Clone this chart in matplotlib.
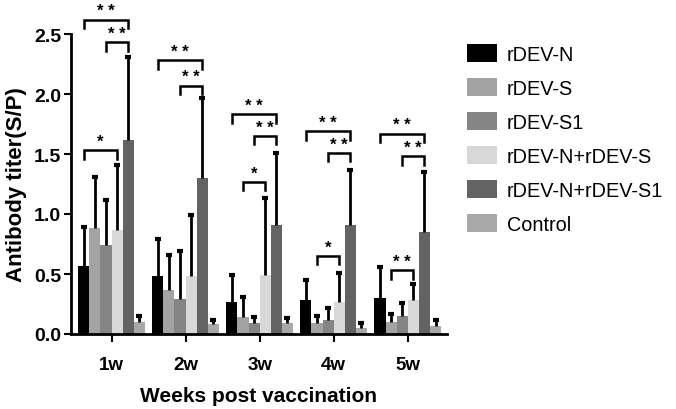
import matplotlib
matplotlib.use("Agg")
import matplotlib.pyplot as plt
import numpy as np
from matplotlib.patches import Patch

plt.rcParams['font.family'] = ['Liberation Sans', 'DejaVu Sans']

weeks = ["1w", "2w", "3w", "4w", "5w"]
groups = ["rDEV-N", "rDEV-S", "rDEV-S1", "rDEV-N+rDEV-S", "rDEV-N+rDEV-S1", "Control"]
colors = ["#000000", "#a3a3a3", "#858585", "#d8d8d8", "#636363", "#a8a8a8"]

# means per group (one value per week)
n_mean = [0.57, 0.48, 0.27, 0.28, 0.30]
s_mean = [0.88, 0.37, 0.14, 0.09, 0.10]
s1_mean = [0.74, 0.29, 0.09, 0.12, 0.15]
ns_mean = [0.87, 0.48, 0.49, 0.27, 0.28]
ns1_mean = [1.62, 1.30, 0.91, 0.91, 0.85]
ctrl_mean = [0.10, 0.08, 0.09, 0.05, 0.07]

# top of error bar
n_top = [0.89, 0.79, 0.49, 0.45, 0.56]
s_top = [1.31, 0.66, 0.31, 0.15, 0.17]
s1_top = [1.12, 0.69, 0.14, 0.22, 0.26]
ns_top = [1.41, 0.99, 1.13, 0.51, 0.42]
ns1_top = [2.31, 1.97, 1.51, 1.37, 1.35]
ctrl_top = [0.15, 0.12, 0.13, 0.09, 0.12]

means = [n_mean, s_mean, s1_mean, ns_mean, ns1_mean, ctrl_mean]
tops = [n_top, s_top, s1_top, ns_top, ns1_top, ctrl_top]

# significance brackets: week index, bar i, bar j, height, label
sig_week = [0, 0, 0, 1, 1, 2, 2, 2, 3, 3, 3, 4, 4, 4]
sig_i = [0, 2, 0, 0, 2, 0, 2, 1, 0, 2, 1, 0, 2, 1]
sig_j = [4, 4, 3, 4, 4, 4, 4, 3, 4, 4, 3, 4, 4, 3]
sig_y = [2.62, 2.43, 1.53, 2.28, 2.07, 1.83, 1.65, 1.27, 1.69, 1.51, 0.65, 1.67, 1.48, 0.53]
sig_txt = ["**", "**", "*", "**", "**", "**", "**", "*", "**", "**", "*", "**", "**", "**"]

fig = plt.figure(figsize=(6.76, 4.10), dpi=100)
ax = fig.add_axes([71/676, 75/410, 376/676, 300/410])

x = np.arange(len(weeks))
w = 0.15
for k in range(6):
    pos = x + (k - 2.5) * w
    m = np.array(means[k])
    top = np.array(tops[k])
    ax.bar(pos, m, width=w, color=colors[k], edgecolor='none', zorder=2)
    # upper error bar only
    ax.vlines(pos, m, top, color='black', lw=2, zorder=3)
    ax.plot(pos, top, ls='none', marker='_', ms=5, mew=3, color='black', zorder=3)

drop = 0.07
for wk, i, j, yv, t in zip(sig_week, sig_i, sig_j, sig_y, sig_txt):
    x1 = x[wk] + (i - 2.5) * w
    x2 = x[wk] + (j - 2.5) * w
    ax.plot([x1, x1, x2, x2], [yv - drop, yv, yv, yv - drop], color='black', lw=1.8,
            clip_on=False, zorder=4, solid_joinstyle='miter')
    ax.text((x1 + x2) / 2, yv + 0.01, " ".join(t), ha='center', va='bottom',
            fontsize=12, fontweight='bold')

ax.set_xlim(-0.547, 4.53)
ax.set_ylim(0, 2.5)
ax.set_yticks([0, 0.5, 1.0, 1.5, 2.0, 2.5])
ax.set_yticklabels(["0.0", "0.5", "1.0", "1.5", "2.0", "2.5"])
ax.set_xticks(x)
ax.set_xticklabels(weeks)
ax.tick_params(axis='y', labelsize=14, width=1.5, length=5, pad=2)
ax.tick_params(axis='x', labelsize=13.5, width=1.5, length=6, pad=10)
for lab in ax.get_yticklabels() + ax.get_xticklabels():
    lab.set_fontweight('bold')

ax.spines['top'].set_visible(False); ax.spines['right'].set_visible(False)
ax.spines['left'].set_linewidth(2); ax.spines['bottom'].set_linewidth(2)

ax.set_ylabel("Antibody titer(S/P)", fontsize=16, fontweight='bold', labelpad=5)
ax.set_xlabel("Weeks post vaccination", fontsize=15, fontweight='bold', labelpad=9)

handles = [Patch(facecolor=c, edgecolor='none') for c in colors]
fig.legend(handles, groups, loc='upper left', bbox_to_anchor=(467/676, 1 - 45/410),
           frameon=False, fontsize=14.3, handlelength=1.5, handleheight=1.0,
           handletextpad=0.5, labelspacing=0.72, borderpad=0, borderaxespad=0)

fig.savefig("out.png", dpi=100)
